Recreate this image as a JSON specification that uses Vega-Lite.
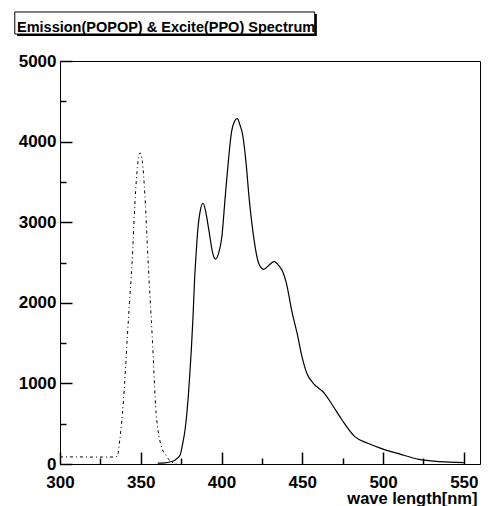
{
  "$schema": "https://vega.github.io/schema/vega-lite/v6.json",
  "autosize": {"type": "none"},
  "width": 420,
  "height": 403,
  "padding": {"left": 60, "top": 61, "right": 18, "bottom": 42},
  "background": "white",
  "title": {
    "text": "Emission(POPOP) & Excite(PPO) Spectrum",
    "anchor": "start",
    "frame": "group",
    "dx": -43,
    "offset": -35,
    "baseline": "alphabetic",
    "font": "Liberation Sans",
    "fontSize": 14.5,
    "fontWeight": "bold",
    "color": "black"
  },
  "config": {
    "view": {"stroke": "black", "strokeWidth": 1},
    "axis": {
      "grid": false,
      "domainColor": "black",
      "tickColor": "black",
      "tickWidth": 1.5,
      "labelColor": "black",
      "labelFont": "Liberation Sans",
      "labelFontSize": 17,
      "labelFontWeight": "bold",
      "titleFont": "Liberation Sans",
      "titleFontWeight": "bold",
      "titleColor": "black",
      "labelFlush": false,
      "labelOverlap": false
    }
  },
  "datasets": {
    "excite": [
      {"wl": 300, "v": 88}, {"wl": 310, "v": 88}, {"wl": 320, "v": 86}, {"wl": 330, "v": 86},
      {"wl": 334.5, "v": 88}, {"wl": 335.7, "v": 112}, {"wl": 337, "v": 300}, {"wl": 338.7, "v": 629},
      {"wl": 340, "v": 1000}, {"wl": 341.7, "v": 1580}, {"wl": 343, "v": 2000}, {"wl": 344.6, "v": 2490},
      {"wl": 346.6, "v": 3317}, {"wl": 348, "v": 3700}, {"wl": 349.6, "v": 3860}, {"wl": 351, "v": 3750},
      {"wl": 352.6, "v": 3317}, {"wl": 354.6, "v": 2490}, {"wl": 357.1, "v": 1580}, {"wl": 359.5, "v": 629},
      {"wl": 361, "v": 380}, {"wl": 363, "v": 200}, {"wl": 365.5, "v": 112}, {"wl": 368, "v": 40},
      {"wl": 372, "v": 5}
    ],
    "emission": [
      {"wl": 360.5, "v": 10}, {"wl": 365, "v": 15}, {"wl": 368, "v": 25}, {"wl": 370.5, "v": 40},
      {"wl": 372.5, "v": 70}, {"wl": 374.4, "v": 115}, {"wl": 376, "v": 260}, {"wl": 377.4, "v": 422},
      {"wl": 378.5, "v": 620}, {"wl": 379.4, "v": 835}, {"wl": 380.4, "v": 1130}, {"wl": 381.4, "v": 1456},
      {"wl": 382.4, "v": 1850}, {"wl": 383.3, "v": 2283}, {"wl": 384.3, "v": 2620}, {"wl": 385.3, "v": 2903},
      {"wl": 386.9, "v": 3151}, {"wl": 388.5, "v": 3235}, {"wl": 390, "v": 3150}, {"wl": 392.3, "v": 2882},
      {"wl": 394.5, "v": 2620}, {"wl": 396.2, "v": 2543}, {"wl": 398, "v": 2600}, {"wl": 400.2, "v": 2820},
      {"wl": 402.2, "v": 3296}, {"wl": 404.2, "v": 3751}, {"wl": 406.2, "v": 4123}, {"wl": 408, "v": 4250},
      {"wl": 409.7, "v": 4285}, {"wl": 411.5, "v": 4200}, {"wl": 413.1, "v": 4082}, {"wl": 415.1, "v": 3751},
      {"wl": 417.1, "v": 3296}, {"wl": 420, "v": 2800}, {"wl": 423, "v": 2490}, {"wl": 426, "v": 2415},
      {"wl": 429.5, "v": 2470}, {"wl": 432.5, "v": 2510}, {"wl": 435.5, "v": 2460}, {"wl": 437.9, "v": 2386},
      {"wl": 439.9, "v": 2262}, {"wl": 443.8, "v": 1870}, {"wl": 446.8, "v": 1621}, {"wl": 449.8, "v": 1332},
      {"wl": 452.8, "v": 1125}, {"wl": 456.8, "v": 1001}, {"wl": 463.7, "v": 877}, {"wl": 468.6, "v": 732},
      {"wl": 474.6, "v": 546}, {"wl": 482.5, "v": 339}, {"wl": 490.5, "v": 257}, {"wl": 500.4, "v": 182},
      {"wl": 510, "v": 125}, {"wl": 522.2, "v": 58}, {"wl": 535, "v": 30}, {"wl": 550, "v": 17}
    ]
  },
  "layer": [
    {
      "data": {"values": [{}]},
      "mark": {"type": "rect", "color": "black", "clip": false},
      "encoding": {
        "x": {"datum": 273.4, "type": "quantitative", "scale": {"domain": [300, 550]}, "axis": null},
        "x2": {"datum": 459.0},
        "y": {"datum": 5583, "type": "quantitative", "scale": {"domain": [0, 5000]}, "axis": null},
        "y2": {"datum": 5310}
      }
    },
    {
      "data": {"values": [{}]},
      "mark": {"type": "rect", "fill": "white", "stroke": "black", "strokeWidth": 1, "clip": false},
      "encoding": {
        "x": {"datum": 272.0, "type": "quantitative", "axis": null},
        "x2": {"datum": 457.7},
        "y": {"datum": 5608, "type": "quantitative", "axis": null},
        "y2": {"datum": 5335}
      }
    },
    {
      "data": {"name": "excite"},
      "mark": {"type": "line", "color": "black", "strokeWidth": 1, "strokeDash": [3, 3, 1, 3], "interpolate": "monotone"},
      "encoding": {
        "x": {
          "field": "wl", "type": "quantitative",
          "axis": {"orient": "bottom", "values": [325, 375, 425, 475, 525], "labels": false, "domain": false, "offset": -6, "tickSize": 6, "title": null}
        },
        "y": {
          "field": "v", "type": "quantitative",
          "axis": {"orient": "left", "values": [500, 1500, 2500, 3500, 4500], "labels": false, "domain": false, "offset": -6, "tickSize": 6, "title": null}
        }
      }
    },
    {
      "data": {"name": "emission"},
      "mark": {"type": "line", "color": "black", "strokeWidth": 1.2, "interpolate": "monotone"},
      "encoding": {
        "x": {
          "field": "wl", "type": "quantitative",
          "axis": {
            "orient": "bottom", "values": [300, 350, 400, 450, 500, 550], "format": "d", "domain": false,
            "offset": -12, "tickSize": 12, "labelPadding": 10,
            "title": "wave length[nm]", "titleFontSize": 16.5, "titleAnchor": "end", "titleAlign": "right",
            "titleBaseline": "alphabetic", "titleX": 417, "titleY": 51.5
          }
        },
        "y": {
          "field": "v", "type": "quantitative",
          "axis": {"orient": "left", "values": [0, 1000, 2000, 3000, 4000, 5000], "format": "d", "domain": false,
            "offset": -12, "tickSize": 12, "labelPadding": 4, "title": null}
        }
      }
    }
  ],
  "resolve": {"axis": {"x": "independent", "y": "independent"}}
}
